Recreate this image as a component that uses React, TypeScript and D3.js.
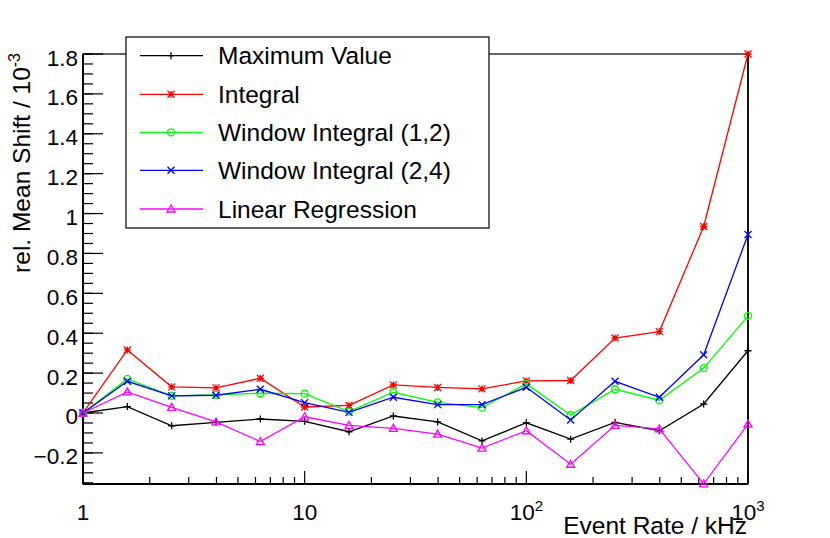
import * as d3 from "d3"

// event rates in kHz (5 points per decade)
const rates = [1, 1.585, 2.512, 3.981, 6.31, 10, 15.85, 25.12, 39.81, 63.1, 100, 158.5, 251.2, 398.1, 631, 1000]

const maxValue = [0, 0.032, -0.064, -0.047, -0.030, -0.042, -0.094, -0.015, -0.045, -0.140, -0.049, -0.131, -0.047, -0.089, 0.045, 0.312]
const integral = [0, 0.316, 0.131, 0.126, 0.174, 0.030, 0.038, 0.141, 0.128, 0.121, 0.161, 0.163, 0.376, 0.408, 0.935, 1.80]
const window12 = [0, 0.171, 0.086, 0.091, 0.099, 0.097, 0.007, 0.104, 0.053, 0.027, 0.146, -0.010, 0.119, 0.064, 0.225, 0.487]
const window24 = [0, 0.159, 0.086, 0.089, 0.119, 0.052, 0.003, 0.079, 0.042, 0.042, 0.129, -0.035, 0.159, 0.079, 0.292, 0.895]
const linRegression = [0, 0.106, 0.028, -0.045, -0.143, -0.019, -0.062, -0.077, -0.106, -0.176, -0.089, -0.257, -0.062, -0.079, -0.355, -0.056]

const seriesNames = ["Maximum Value", "Integral", "Window Integral (1,2)", "Window Integral (2,4)", "Linear Regression"]
const seriesColors = ["#000000", "#ff0000", "#00ff00", "#0000ff", "#ff00ff"]
const seriesMarkers = ["plus", "star", "circle", "cross", "triangle"]

const yTicks = [-0.2, 0, 0.2, 0.4, 0.6, 0.8, 1, 1.2, 1.4, 1.6, 1.8]
const decades = [1, 10, 100, 1000]

const W = 830
const H = 538
const FONT = "'Liberation Sans', Arial, Helvetica, sans-serif"

const x = d3.scaleLog().domain([1, 1000]).range([83, 748])
const y = d3.scaleLinear().domain([-0.356, 1.8]).range([484, 54])

// ROOT style marker outlines
function markerPath(kind: string, cx: number, cy: number) {
  const p = d3.path()
  const s = 3.5
  if (kind === "plus") {
    p.moveTo(cx - s, cy); p.lineTo(cx + s, cy)
    p.moveTo(cx, cy - s); p.lineTo(cx, cy + s)
  } else if (kind === "star") {
    p.moveTo(cx - s, cy); p.lineTo(cx + s, cy)
    p.moveTo(cx, cy - s); p.lineTo(cx, cy + s)
    p.moveTo(cx - s, cy - s); p.lineTo(cx + s, cy + s)
    p.moveTo(cx - s, cy + s); p.lineTo(cx + s, cy - s)
  } else if (kind === "circle") {
    p.moveTo(cx + s, cy)
    p.arc(cx, cy, s, 0, Math.PI * 2)
  } else if (kind === "cross") {
    p.moveTo(cx - s, cy - s); p.lineTo(cx + s, cy + s)
    p.moveTo(cx - s, cy + s); p.lineTo(cx + s, cy - s)
  } else {
    p.moveTo(cx, cy - s - 0.5)
    p.lineTo(cx + s + 0.5, cy + s - 0.5)
    p.lineTo(cx - s - 0.5, cy + s - 0.5)
    p.closePath()
  }
  return p.toString()
}

export default function App() {
  const series = [maxValue, integral, window12, window24, linRegression]
  const line = d3.line<number>()
    .x((_, i) => x(rates[i]))
    .y(d => y(d))

  const yMinor = d3.range(-0.35, 1.8001, 0.05).filter(v => y(v) <= 484.5)
  const xMinor: number[] = []
  decades.slice(0, 3).forEach(d => {
    for (let k = 2; k <= 9; k++) xMinor.push(d * k)
  })

  const legendRows = [55.7, 94.3, 132.3, 170.3, 209]

  return (
    <svg width={W} height={H} style={{ position: "absolute", left: 0, top: 0, background: "#fff" }}
      fontFamily={FONT}>
      <rect x={0} y={0} width={W} height={H} fill="#fff" />

      {/* frame */}
      <rect x={83} y={54} width={665} height={430} fill="none" stroke="#000" strokeWidth={1.2} />

      {/* y axis ticks */}
      {yMinor.map((v, i) => (
        <line key={"ym" + i} x1={83} x2={93} y1={y(v)} y2={y(v)} stroke="#000" strokeWidth={1.2} />
      ))}
      {yTicks.map(v => (
        <line key={"yt" + v} x1={83} x2={103} y1={y(v)} y2={y(v)} stroke="#000" strokeWidth={1.2} />
      ))}
      {yTicks.map(v => (
        <text key={"yl" + v} x={78} y={y(v) + 11.5} textAnchor="end" fontSize={22.5}>
          {v < 0 ? "\u2212" + Math.abs(v) : String(v)}
        </text>
      ))}

      {/* x axis ticks */}
      {xMinor.map(v => (
        <line key={"xm" + v} x1={x(v)} x2={x(v)} y1={484} y2={477} stroke="#000" strokeWidth={1.2} />
      ))}
      {decades.map(v => (
        <line key={"xt" + v} x1={x(v)} x2={x(v)} y1={484} y2={471} stroke="#000" strokeWidth={1.2} />
      ))}
      {decades.map((v, i) => (
        <text key={"xl" + v} x={x(v)} y={520} textAnchor="middle" fontSize={22.5}>
          {i < 2 ? String(v) : <>10<tspan dy={-9} fontSize={15}>{i}</tspan></>}
        </text>
      ))}

      {/* axis lines */}
      <line x1={83} x2={748} y1={484} y2={484} stroke="#000" strokeWidth={2} />
      <line x1={83} x2={83} y1={54} y2={484} stroke="#000" strokeWidth={2} />
      <line x1={748} x2={748} y1={54} y2={484} stroke="#000" strokeWidth={1.6} />

      {/* titles */}
      <text x={747} y={534} textAnchor="end" fontSize={24.5}>Event Rate / kHz</text>
      <text transform="translate(30,53) rotate(-90)" textAnchor="end" fontSize={24.5}>
        rel. Mean Shift / 10<tspan dy={-10} fontSize={16}>-3</tspan>
      </text>

      {/* series */}
      {series.map((vals, si) => (
        <g key={"s" + si}>
          <path d={line(vals) ?? ""} fill="none" stroke={seriesColors[si]} strokeWidth={1.3} />
          {vals.map((v, i) => (
            <path key={i} d={markerPath(seriesMarkers[si], x(rates[i]), y(v))}
              fill="none" stroke={seriesColors[si]} strokeWidth={1.3} />
          ))}
        </g>
      ))}

      {/* legend */}
      <rect x={126} y={37} width={363} height={191} fill="#fff" stroke="#000" strokeWidth={1.2} />
      {seriesNames.map((name, i) => (
        <g key={"lg" + i}>
          <line x1={140} x2={203} y1={legendRows[i]} y2={legendRows[i]} stroke={seriesColors[i]} strokeWidth={1.3} />
          <path d={markerPath(seriesMarkers[i], 171, legendRows[i])} fill="none" stroke={seriesColors[i]} strokeWidth={1.3} />
          <text x={218} y={legendRows[i] + 8.5} fontSize={24.5}>{name}</text>
        </g>
      ))}
    </svg>
  )
}
